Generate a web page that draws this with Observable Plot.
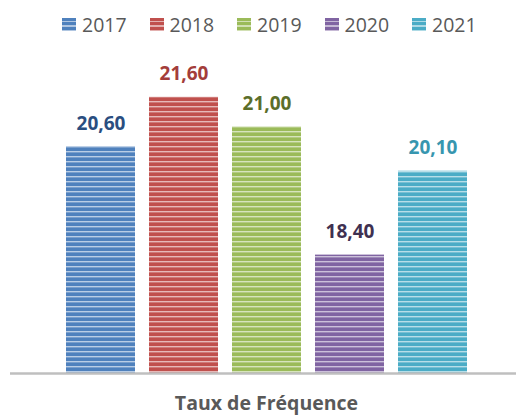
<!DOCTYPE html>
<html>
<head>
<meta charset="utf-8">
<script src="https://cdn.jsdelivr.net/npm/d3@7"></script>
<script src="https://cdn.jsdelivr.net/npm/@observablehq/plot@0.6"></script>
<style>
  html, body { margin: 0; padding: 0; background: #fff; }
  body { width: 516px; height: 416px; overflow: hidden; font-family: "Open Sans", sans-serif; }
  #legend { height: 48px; display: flex; align-items: center; padding-left: 62px; box-sizing: border-box; }
  .item { display: flex; align-items: center; width: 87.5px; }
  .sw { width: 14px; height: 13px; margin-right: 6px; }
  .lab { font-size: 19.5px; color: #595959; }
</style>
</head>
<body>
<div id="legend"></div>
<div id="chart"></div>
<script>
const years = ["2017", "2018", "2019", "2020", "2021"];
const values = [20.6, 21.6, 21.0, 18.4, 20.1];
const barColors = ["#4F81BD", "#C0504D", "#9BBB59", "#8064A2", "#4BACC6"];
const labelColors = ["#2A4E80", "#A33D3A", "#5B6E2A", "#3F3151", "#3796AF"];
const yDomain = [16, 22];
const axisTitle = "Taux de Fréquence";

const data = years.map((y, i) => ({year: y, value: values[i], fill: `url(#pat${i})`, lab: labelColors[i]}));

// legend
const legend = document.getElementById("legend");
years.forEach((y, i) => {
  const it = document.createElement("div");
  it.className = "item";
  const sw = document.createElement("div");
  sw.className = "sw";
  sw.style.background = `repeating-linear-gradient(to bottom, ${barColors[i]} 0px 3px, ${d3.interpolateRgb(barColors[i], "#fff")(0.55)} 3px 4.4px)`;
  const lb = document.createElement("span");
  lb.className = "lab";
  lb.textContent = y;
  it.appendChild(sw); it.appendChild(lb);
  legend.appendChild(it);
});

const fmt = v => v.toFixed(2).replace(".", ",");

const chart = Plot.plot({
  width: 516,
  height: 368,
  marginTop: 29,
  marginBottom: 43,
  marginLeft: 10,
  marginRight: 0,
  x: {domain: years, range: [66, 467], paddingInner: 0.169, paddingOuter: 0, axis: null},
  y: {domain: yDomain, axis: null},
  color: {type: "identity"},
  marks: [
    Plot.barY(data, {x: "year", y1: yDomain[0], y2: "value", fill: "fill"}),
    Plot.ruleY([yDomain[0]], {stroke: "#BFBFBF", strokeWidth: 2.5}),
    Plot.text(data, {x: "year", y: "value", text: d => fmt(d.value), fill: "lab", dy: -23,
      fontSize: 19, fontWeight: "bold", fontFamily: "Open Sans", textAnchor: "middle", lineAnchor: "middle"}),
    Plot.text([axisTitle], {frameAnchor: "bottom", dy: 30, dx: 3, text: d => d, fill: "#595959",
      fontSize: 19.5, fontWeight: "bold", fontFamily: "Open Sans", lineAnchor: "middle"})
  ]
});

// stripe patterns
const ns = "http://www.w3.org/2000/svg";
const defs = document.createElementNS(ns, "defs");
barColors.forEach((c, i) => {
  const p = document.createElementNS(ns, "pattern");
  p.setAttribute("id", `pat${i}`);
  p.setAttribute("patternUnits", "userSpaceOnUse");
  p.setAttribute("width", 10);
  p.setAttribute("height", 5);
  const r1 = document.createElementNS(ns, "rect");
  r1.setAttribute("width", 10); r1.setAttribute("height", 5); r1.setAttribute("fill", c);
  const r2 = document.createElementNS(ns, "rect");
  r2.setAttribute("y", 3); r2.setAttribute("width", 10); r2.setAttribute("height", 1.4);
  r2.setAttribute("fill", "#fff"); r2.setAttribute("fill-opacity", 0.6);
  p.appendChild(r1); p.appendChild(r2);
  defs.appendChild(p);
});
chart.insertBefore(defs, chart.firstChild);
document.getElementById("chart").appendChild(chart);
</script>
</body>
</html>
